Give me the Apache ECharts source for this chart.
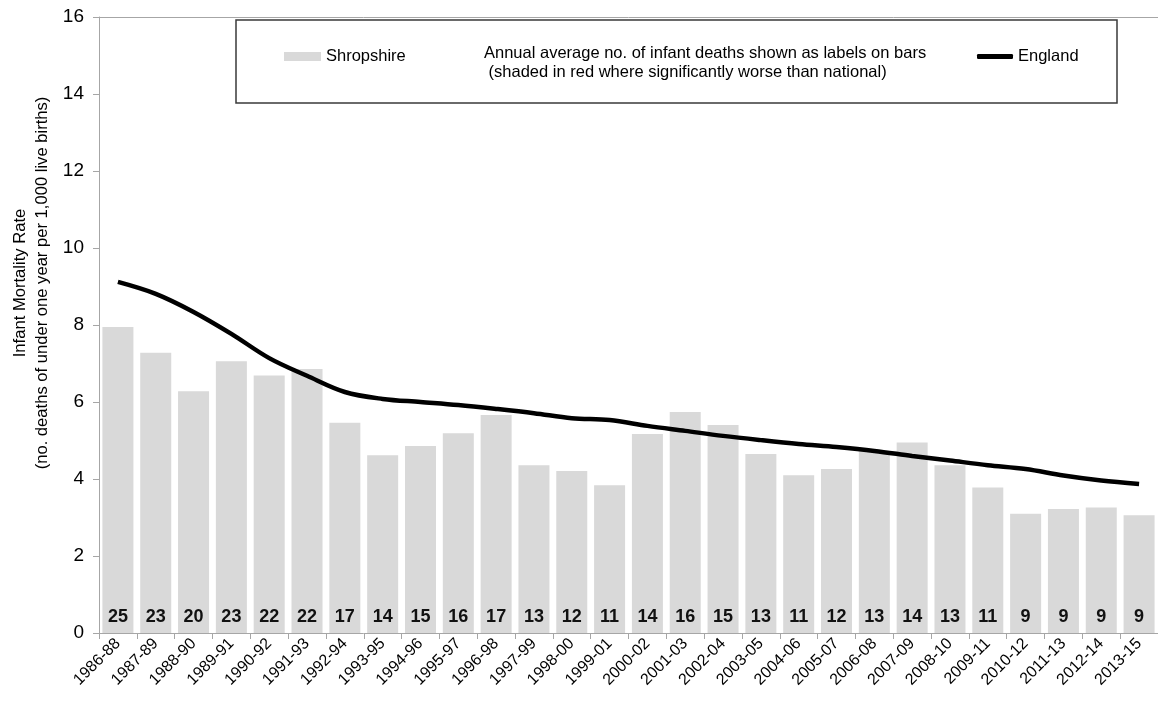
<!DOCTYPE html>
<html>
<head>
<meta charset="utf-8">
<script src="https://cdn.jsdelivr.net/npm/echarts@6/dist/echarts.min.js"></script>
<style>
html,body{margin:0;padding:0;background:#fff;}
#chart{width:1158px;height:704px;}
</style>
</head>
<body>
<div id="chart"></div>
<script>
const categories = ['1986-88','1987-89','1988-90','1989-91','1990-92','1991-93','1992-94','1993-95','1994-96','1995-97','1996-98','1997-99','1998-00','1999-01','2000-02','2001-03','2002-04','2003-05','2004-06','2005-07','2006-08','2007-09','2008-10','2009-11','2010-12','2011-13','2012-14','2013-15'];
const shropshire = [7.95,7.28,6.28,7.06,6.69,6.86,5.46,4.62,4.86,5.19,5.66,4.36,4.21,3.84,5.17,5.74,5.40,4.65,4.10,4.26,4.73,4.95,4.36,3.78,3.10,3.22,3.26,3.06];
const deaths = [25,23,20,23,22,22,17,14,15,16,17,13,12,11,14,16,15,13,11,12,13,14,13,11,9,9,9,9];
const england = [9.12,8.81,8.34,7.77,7.14,6.68,6.26,6.08,6.00,5.92,5.82,5.71,5.58,5.53,5.38,5.25,5.12,5.01,4.91,4.83,4.73,4.60,4.48,4.36,4.26,4.09,3.96,3.87];
const yTicks = [0,2,4,6,8,10,12,14,16];

const FONT = '"Liberation Sans", Arial, sans-serif';
const chart = echarts.init(document.getElementById('chart'));
chart.setOption({
  animation: false,
  backgroundColor: '#fff',
  textStyle: {fontFamily: FONT},
  grid: {left: 99, top: 17, width: 1062, height: 616, containLabel: false},
  legend: [
    {data: ['Shropshire'], left: 279, top: 43, itemWidth: 37, itemHeight: 9, icon: 'rect',
     textStyle: {fontFamily: FONT, fontSize: 16.5, color: '#000'}},
    {data: [{name: 'England', icon: 'roundRect'}], left: 972, top: 43, itemWidth: 36, itemHeight: 5,
     itemStyle: {color: '#000'},
     textStyle: {fontFamily: FONT, fontSize: 16.5, color: '#000'}}
  ],
  xAxis: [
    {type: 'category', data: categories, boundaryGap: true,
     axisLine: {lineStyle: {color: '#a6a6a6', width: 1}},
     axisTick: {show: true, length: 6, lineStyle: {color: '#a6a6a6'}},
     axisLabel: {interval: 0, rotate: 45, fontSize: 16, color: '#000', margin: 8, fontFamily: FONT}},
    {type: 'category', data: categories, position: 'top',
     axisLine: {show: true, lineStyle: {color: '#a6a6a6', width: 1}},
     axisTick: {show: false}, axisLabel: {show: false}}
  ],
  yAxis: {
    type: 'value', min: yTicks[0], max: yTicks[yTicks.length - 1], interval: 2,
    axisLine: {show: true, lineStyle: {color: '#a6a6a6', width: 1}},
    axisTick: {show: true, length: 6, lineStyle: {color: '#a6a6a6'}},
    axisLabel: {fontSize: 19, color: '#000', margin: 15, fontFamily: FONT},
    splitLine: {show: false}
  },
  graphic: [
    {type: 'rect', shape: {x: 236, y: 20, width: 881, height: 83},
     style: {fill: 'rgba(255,255,255,0)', stroke: '#3a3a3a', lineWidth: 1.5}, z: 10},
    {type: 'text', x: 484, y: 53, z: 11,
     style: {text: 'Annual average no. of infant deaths shown as labels on bars', font: '16.5px ' + FONT, fill: '#000', textVerticalAlign: 'middle'}},
    {type: 'text', x: 484, y: 72, z: 11,
     style: {text: ' (shaded in red where significantly worse than national)', font: '16.5px ' + FONT, fill: '#000', textVerticalAlign: 'middle'}},
    {type: 'text', x: 31, y: 283, rotation: Math.PI / 2, z: 11,
     style: {text: 'Infant Mortality Rate\n(no. deaths of under one year per 1,000 live births)', font: '16.6px ' + FONT, fill: '#000',
       textAlign: 'center', textVerticalAlign: 'middle', lineHeight: 22}}
  ],
  series: [
    {name: 'Shropshire', type: 'bar', data: shropshire, barWidth: 31,
     itemStyle: {color: '#d9d9d9'},
     label: {show: true, position: 'insideBottom', distance: 7, fontSize: 18, fontWeight: 'bold', color: '#111', fontFamily: FONT,
       formatter: p => String(deaths[p.dataIndex])}},
    {name: 'England', type: 'line', data: england, smooth: 0.35, showSymbol: false, symbol: 'none',
     lineStyle: {color: '#000', width: 4.5}, itemStyle: {color: '#000'}, z: 5}
  ]
});
</script>
</body>
</html>
